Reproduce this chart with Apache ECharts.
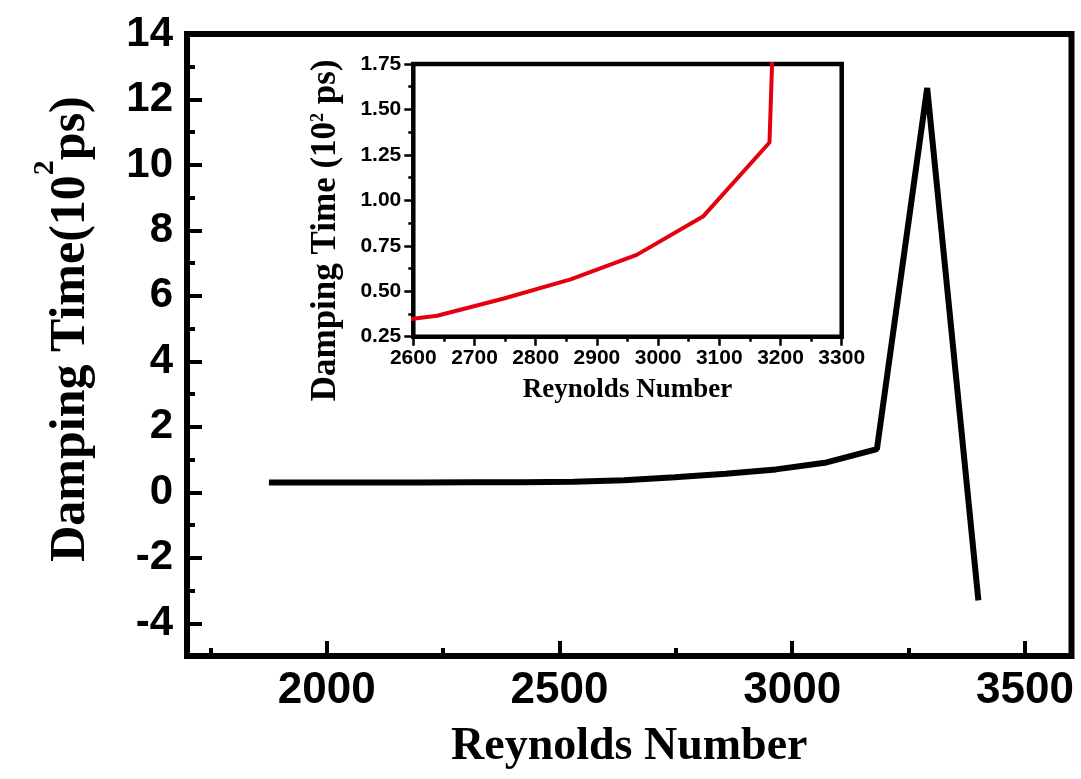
<!DOCTYPE html>
<html><head><meta charset="utf-8">
<script src="https://cdn.jsdelivr.net/npm/echarts@6/dist/echarts.min.js"></script>
<style>html,body{margin:0;padding:0;background:#fff}#c{width:1081px;height:779px}</style>
</head><body><div id="c"></div>
<script>
// Data
const reynolds = [1876, 1985, 2094, 2203, 2312, 2421, 2530, 2639, 2748, 2857, 2965, 3074, 3182, 3290, 3400];
const damping  = [0.30, 0.30, 0.30, 0.30, 0.31, 0.31, 0.32, 0.365, 0.46, 0.565, 0.70, 0.913, 1.318, 12.35, -3.3];

// Tick values
const mainXTicks = [2000, 2500, 3000, 3500];
const mainXMinor = [1750, 2250, 2750, 3250];
const mainYTicks = [-4, -2, 0, 2, 4, 6, 8, 10, 12, 14];
const mainYMinor = [-3, -1, 1, 3, 5, 7, 9, 11, 13];

const points = reynolds.map((x, i) => [x, damping[i]]);

const lab = { fontFamily: 'Liberation Sans', fontWeight: 'bold', color: '#000' };
const ttl = { fontFamily: 'Liberation Serif', fontWeight: 'bold', color: '#000' };
const tickMain = { width: 4, color: '#000' };
const plain = v => String(v);

const chart = echarts.init(document.getElementById('c'));
const option = {
  animation: false,
  backgroundColor: '#fff',
  grid: [
    { left: 187, right: 9.5, top: 34, bottom: 123, show: true, borderColor: '#000', borderWidth: 6 },
    { left: 413.3, right: 239.3, top: 64, bottom: 442.3, show: true, borderColor: '#000', borderWidth: 4.5 }
  ],
  xAxis: [
    {
      gridIndex: 0, type: 'value', min: 1700, max: 3600, position: 'bottom',
      axisLine: { show: false, onZero: false }, splitLine: { show: false },
      axisTick: { show: true, inside: true, length: 15, lineStyle: tickMain, customValues: mainXTicks },
      axisLabel: Object.assign({ customValues: mainXTicks, margin: 13, fontSize: 44, formatter: plain }, lab),
      name: 'Reynolds Number', nameLocation: 'middle', nameGap: 68,
      nameTextStyle: Object.assign({ fontSize: 46 }, ttl)
    },
    {
      gridIndex: 0, type: 'value', min: 1700, max: 3600, position: 'bottom',
      axisLine: { show: false, onZero: false }, splitLine: { show: false },
      axisTick: { show: true, inside: true, length: 8, lineStyle: tickMain, customValues: mainXMinor },
      axisLabel: { show: false }
    },
    {
      gridIndex: 1, type: 'value', min: 2600, max: 3300, interval: 100, position: 'bottom',
      axisLine: { show: false, onZero: false }, splitLine: { show: false },
      axisTick: { show: true, inside: false, length: 9, lineStyle: { width: 2.5, color: '#000' } },
      minorTick: { show: true, splitNumber: 2, length: 5, lineStyle: { width: 2.5, color: '#000' } },
      axisLabel: Object.assign({ margin: 11, fontSize: 21, formatter: plain }, lab),
      name: 'Reynolds Number', nameLocation: 'middle', nameGap: 40,
      nameTextStyle: Object.assign({ fontSize: 27 }, ttl)
    }
  ],
  yAxis: [
    {
      gridIndex: 0, type: 'value', min: -5, max: 14, position: 'left',
      axisLine: { show: false, onZero: false }, splitLine: { show: false },
      axisTick: { show: true, inside: true, length: 15, lineStyle: tickMain, customValues: mainYTicks },
      axisLabel: Object.assign({ customValues: mainYTicks, margin: 14, fontSize: 42, formatter: plain }, lab),
      name: '{a|Damping Time(10}{s|2}{a|ps)}', nameLocation: 'middle', nameGap: 91,
      nameTextStyle: {
        padding: [0, 0, 0, 32],
        rich: {
          a: Object.assign({ fontSize: 50, lineHeight: 50, verticalAlign: 'bottom' }, ttl),
          s: Object.assign({ fontSize: 30, lineHeight: 30, padding: [0, 0, 36, 0], verticalAlign: 'bottom' }, ttl)
        }
      }
    },
    {
      gridIndex: 0, type: 'value', min: -5, max: 14, position: 'left',
      axisLine: { show: false, onZero: false }, splitLine: { show: false },
      axisTick: { show: true, inside: true, length: 8, lineStyle: tickMain, customValues: mainYMinor },
      axisLabel: { show: false }
    },
    {
      gridIndex: 1, type: 'value', min: 0.25, max: 1.75, interval: 0.25, position: 'left',
      axisLine: { show: false, onZero: false }, splitLine: { show: false },
      axisTick: { show: true, inside: false, length: 9, lineStyle: { width: 2.5, color: '#000' } },
      minorTick: { show: true, splitNumber: 2, length: 5, lineStyle: { width: 2.5, color: '#000' } },
      axisLabel: Object.assign({ margin: 12, fontSize: 21, formatter: v => v.toFixed(2) }, lab),
      name: '{a|Damping Time (10}{s|2}{a| ps)}', nameLocation: 'middle', nameGap: 70,
      nameTextStyle: {
        padding: [0, 60, 0, 0],
        rich: {
          a: Object.assign({ fontSize: 35, lineHeight: 35, verticalAlign: 'bottom' }, ttl),
          s: Object.assign({ fontSize: 18, lineHeight: 18, padding: [0, 0, 16, 0], verticalAlign: 'bottom' }, ttl)
        }
      }
    }
  ],
  series: [
    {
      type: 'line', xAxisIndex: 0, yAxisIndex: 0, data: points,
      showSymbol: false, symbol: 'none', clip: true,
      lineStyle: { color: '#000', width: 6, join: 'bevel', cap: 'butt' }
    },
    {
      type: 'line', xAxisIndex: 2, yAxisIndex: 2, data: points,
      showSymbol: false, symbol: 'none', clip: true,
      lineStyle: { color: '#e3000f', width: 4, join: 'bevel' }
    }
  ]
};
chart.setOption(option);
</script>
</body></html>
